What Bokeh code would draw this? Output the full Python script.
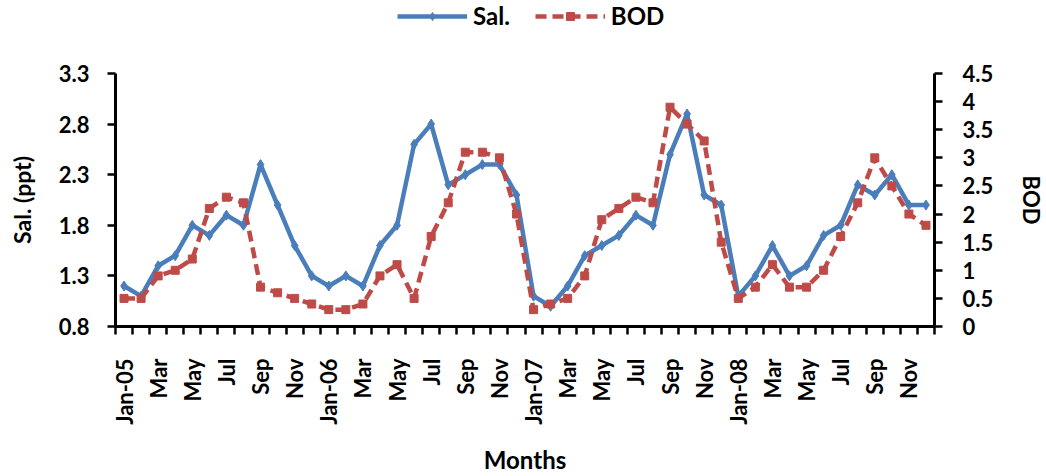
from bokeh.plotting import figure
from bokeh.models import Range1d, LinearAxis, FixedTicker, Legend, LegendItem
from bokeh.layouts import column
from bokeh.embed import file_html
from bokeh.resources import INLINE
import math

months = ["Jan-05", "Feb", "Mar", "Apr", "May", "Jun", "Jul", "Aug", "Sep", "Oct", "Nov", "Dec",
          "Jan-06", "Feb", "Mar", "Apr", "May", "Jun", "Jul", "Aug", "Sep", "Oct", "Nov", "Dec",
          "Jan-07", "Feb", "Mar", "Apr", "May", "Jun", "Jul", "Aug", "Sep", "Oct", "Nov", "Dec",
          "Jan-08", "Feb", "Mar", "Apr", "May", "Jun", "Jul", "Aug", "Sep", "Oct", "Nov", "Dec"]

sal = [1.2, 1.1, 1.4, 1.5, 1.8, 1.7, 1.9, 1.8, 2.4, 2.0, 1.6, 1.3,
       1.2, 1.3, 1.2, 1.6, 1.8, 2.6, 2.8, 2.2, 2.3, 2.4, 2.4, 2.1,
       1.1, 1.0, 1.2, 1.5, 1.6, 1.7, 1.9, 1.8, 2.5, 2.9, 2.1, 2.0,
       1.1, 1.3, 1.6, 1.3, 1.4, 1.7, 1.8, 2.2, 2.1, 2.3, 2.0, 2.0]

bod = [0.5, 0.5, 0.9, 1.0, 1.2, 2.1, 2.3, 2.2, 0.7, 0.6, 0.5, 0.4,
       0.3, 0.3, 0.4, 0.9, 1.1, 0.5, 1.6, 2.2, 3.1, 3.1, 3.0, 2.0,
       0.3, 0.4, 0.5, 0.9, 1.9, 2.1, 2.3, 2.2, 3.9, 3.6, 3.3, 1.5,
       0.5, 0.7, 1.1, 0.7, 0.7, 1.0, 1.6, 2.2, 3.0, 2.5, 2.0, 1.8]

sal_ticks = [0.8, 1.3, 1.8, 2.3, 2.8, 3.3]
bod_ticks = [0, 0.5, 1, 1.5, 2, 2.5, 3, 3.5, 4, 4.5]

FONT = "Lato"
BLUE = "#4A7EBB"
RED = "#BE4B48"

n = len(months)
xs = [i + 0.5 for i in range(n)]

p = figure(frame_width=819, frame_height=253,
           min_border_left=115, min_border_right=106, min_border_top=23, min_border_bottom=148,
           x_range=Range1d(0, n), y_range=Range1d(0.8, 3.3),
           output_backend="svg", toolbar_location=None)
p.extra_y_ranges = {"bod": Range1d(0, 4.5)}
p.outline_line_color = None
p.xgrid.visible = False
p.ygrid.visible = False
p.background_fill_color = "white"
p.border_fill_color = "white"

# X axis
xa = p.xaxis[0]
major = [i + 0.5 for i in range(0, n, 2)]
xa.ticker = FixedTicker(ticks=major, minor_ticks=list(range(0, n + 1)))
xa.major_label_overrides = {i + 0.5: months[i] for i in range(0, n, 2)}
xa.major_label_orientation = math.pi / 2
xa.major_tick_out = 0
xa.major_tick_in = 0
xa.minor_tick_out = 8
xa.minor_tick_in = 0
xa.minor_tick_line_width = 2.5
xa.minor_tick_line_color = "black"
xa.axis_line_width = 3
xa.axis_line_color = "black"
xa.major_label_standoff = 24
xa.major_label_text_font = FONT
xa.major_label_text_font_style = "bold"
xa.major_label_text_font_size = "22px"
xa.major_label_text_color = "black"
xa.axis_label = "Months"
xa.axis_label_text_font = FONT
xa.axis_label_text_font_style = "bold"
xa.axis_label_text_font_size = "24px"
xa.axis_label_text_color = "black"
xa.axis_label_standoff = 17

# Left axis
ya = p.yaxis[0]
ya.ticker = FixedTicker(ticks=sal_ticks)
ya.minor_tick_out = 0
ya.minor_tick_in = 0
ya.major_tick_out = 8
ya.major_tick_in = 0
ya.major_tick_line_width = 2.5
ya.axis_line_width = 3
ya.axis_line_color = "black"
ya.major_label_standoff = 18
ya.major_label_text_font = FONT
ya.major_label_text_font_style = "bold"
ya.major_label_text_font_size = "22px"
ya.major_label_text_color = "black"
ya.axis_label = "Sal. (ppt)"
ya.axis_label_text_font = FONT
ya.axis_label_text_font_style = "bold"
ya.axis_label_text_font_size = "23px"
ya.axis_label_text_color = "black"
ya.axis_label_standoff = 20

# Right axis
ra = LinearAxis(y_range_name="bod", ticker=FixedTicker(ticks=bod_ticks))
ra.major_label_overrides = {0: "0", 1: "1", 2: "2", 3: "3", 4: "4"}
ra.minor_tick_out = 0
ra.minor_tick_in = 0
ra.major_tick_out = 8
ra.major_tick_in = 0
ra.major_tick_line_width = 2.5
ra.axis_line_width = 3
ra.axis_line_color = "black"
ra.major_label_standoff = 20
ra.major_label_text_font = FONT
ra.major_label_text_font_style = "bold"
ra.major_label_text_font_size = "22px"
ra.major_label_text_color = "black"
ra.axis_label = "BOD"
ra.axis_label_text_font = FONT
ra.axis_label_text_font_style = "bold"
ra.axis_label_text_font_size = "22px"
ra.axis_label_text_color = "black"
ra.axis_label_standoff = 22
p.add_layout(ra, "right")

# Series
p.line(xs, sal, line_color=BLUE, line_width=4.5)
p.scatter(xs, sal, marker="diamond", size=10, fill_color=BLUE, line_color=BLUE)
p.line(xs, bod, y_range_name="bod", line_color=RED, line_width=4.5, line_dash="11 6")
p.scatter(xs, bod, y_range_name="bod", marker="square", size=8, fill_color=RED, line_color=RED)

# Legend strip (separate figure above the chart; its frame aligns with the chart frame)
lf = figure(width=1040, height=50, min_border=0, x_range=Range1d(0, 1), y_range=Range1d(0, 1),
            x_axis_location=None, y_axis_location=None,
            output_backend="svg", toolbar_location=None)
lf.outline_line_color = None
lf.xgrid.visible = False
lf.ygrid.visible = False
hx, hy = [-5, -4], [-5, -5]
k1 = lf.line(hx, hy, line_color=BLUE, line_width=4.5)
k1m = lf.scatter(hx, hy, marker="diamond", size=10, fill_color=BLUE, line_color=BLUE)
k2 = lf.line(hx, hy, line_color=RED, line_width=4.5, line_dash="11 6")
k2m = lf.scatter(hx, hy, marker="square", size=8, fill_color=RED, line_color=RED)
legend = Legend(items=[LegendItem(label="Sal.", renderers=[k1, k1m]),
                       LegendItem(label="BOD", renderers=[k2, k2m])],
                orientation="horizontal", location=(282, 20),
                glyph_width=70, glyph_height=20, label_text_font=FONT,
                label_text_font_style="bold", label_text_font_size="24px",
                label_text_color="black",
                label_standoff=6, spacing=25, padding=0, margin=0,
                border_line_color=None, background_fill_alpha=0)
lf.add_layout(legend, "center")

layout = column(lf, p, spacing=0)
open("out.html", "w").write(file_html(layout, INLINE))
